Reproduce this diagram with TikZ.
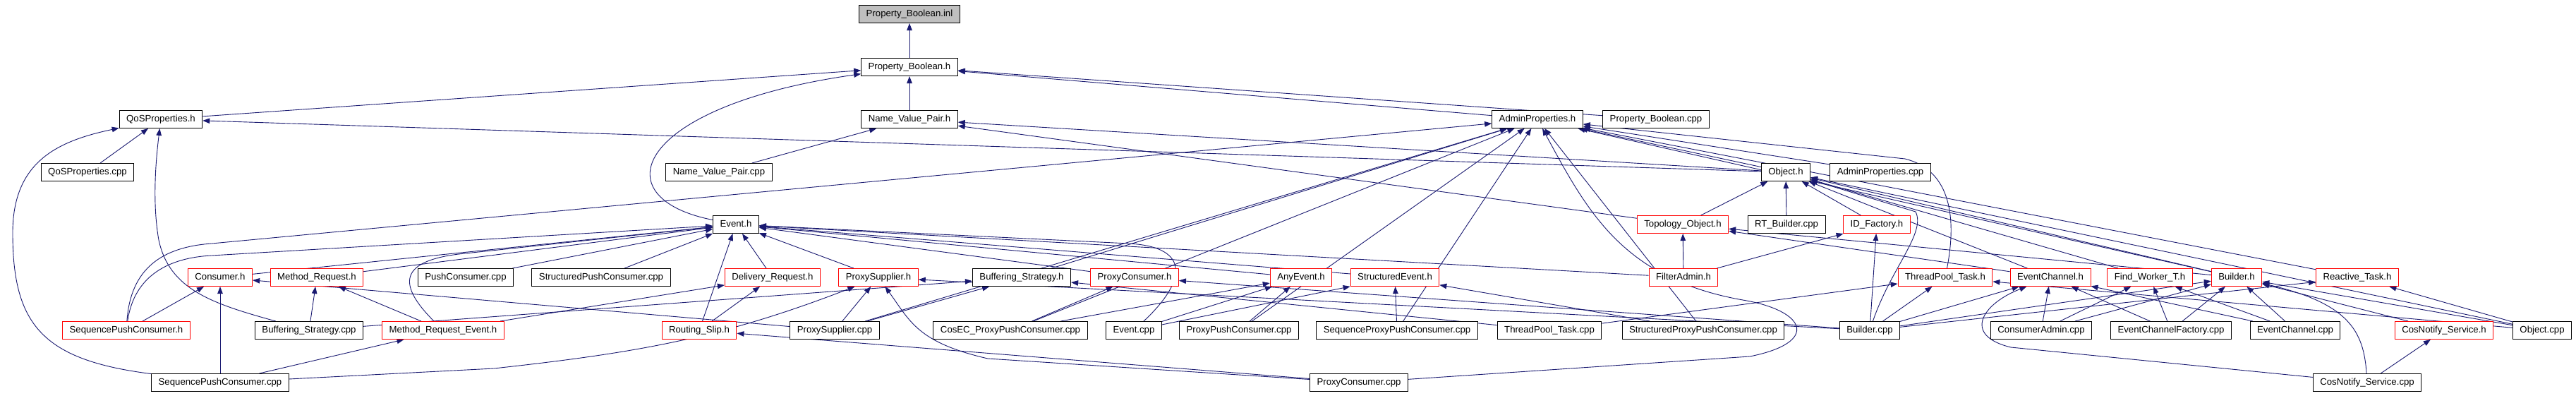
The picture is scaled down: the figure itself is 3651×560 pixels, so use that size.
\documentclass[tikz,border=0pt]{standalone}
\usepackage{fontspec}
\setmainfont{Liberation Sans}
\usepackage{xcolor}
\usetikzlibrary{arrows.meta,positioning,backgrounds}
\definecolor{incblue}{RGB}{25,25,112}

\begin{document}
\begin{tikzpicture}[x=1pt,y=-1pt,
		file/.style={draw=black, fill=white, line width=1pt, minimum height=25pt, inner xsep=10pt, inner ysep=0pt, text height=10pt, text depth=3pt, font=\fontsize{13.2}{15}\selectfont},
		trunc/.style={file, draw=red},
		root/.style={file, fill=black!25},
		dep/.style={draw=incblue, line width=0.9pt, -{Triangle[length=10pt,width=7.5pt]}}
		]
	
		\useasboundingbox (0,0) rectangle (3651,560);
	
		% --- Rangs 0 a 3 ---
		\node[root] (inl) at (1289,20) {Property\_Boolean.inl};
		\node[file] (PBh) at (1289,95) {Property\_Boolean.h};
		\node[file] (QoSh) at (228,169) {QoSProperties.h};
		\node[file] (NVPh) at (1289,169) {Name\_Value\_Pair.h};
		\node[file] (AdminPh) at (2179,169) {AdminProperties.h};
		\node[file] (PBcpp) at (2347,169) {Property\_Boolean.cpp};
		\node[file] (QoScpp) at (124,244) {QoSProperties.cpp};
		\node[file] (NVPcpp) at (1019,244) {Name\_Value\_Pair.cpp};
		\node[file] (Objh) at (2531,244) {Object.h};
		\node[file] (AdminPcpp) at (2665,244) {AdminProperties.cpp};
	
		% --- Rang 4 ---
		\node[file] (Evh) at (1043,318) {Event.h};
		\node[trunc] (Topoh) at (2385,318) {Topology\_Object.h};
		\node[file] (RTBcpp) at (2532,318) {RT\_Builder.cpp};
		\node[trunc] (IDFh) at (2660,318) {ID\_Factory.h};
	
		% --- Rang 5 ---
		\node[trunc] (Consh) at (312,393) {Consumer.h};
		\node[trunc] (MRh) at (449,393) {Method\_Request.h};
		\node[file] (PushCcpp) at (660,393) {PushConsumer.cpp};
		\node[file] (StrPCcpp) at (852,393) {StructuredPushConsumer.cpp};
		\node[trunc] (DRh) at (1095,393) {Delivery\_Request.h};
		\node[trunc] (PxSh) at (1245,393) {ProxySupplier.h};
		\node[file] (BSh) at (1448,393) {Buffering\_Strategy.h};
		\node[trunc] (PxCh) at (1608,393) {ProxyConsumer.h};
		\node[trunc] (AEh) at (1844,393) {AnyEvent.h};
		\node[trunc] (SEh) at (1977,393) {StructuredEvent.h};
		\node[trunc] (FAh) at (2386,393) {FilterAdmin.h};
		\node[trunc] (TPTh) at (2757,393) {ThreadPool\_Task.h};
		\node[trunc] (ECh) at (2906,393) {EventChannel.h};
		\node[trunc] (FWh) at (3047,393) {Find\_Worker\_T.h};
		\node[trunc] (Bh) at (3170,393) {Builder.h};
		\node[trunc] (RTh) at (3341,393) {Reactive\_Task.h};
	
		% --- Rang 6 ---
		\node[trunc] (SeqPCh) at (179,468) {SequencePushConsumer.h};
		\node[file] (BScpp) at (438,468) {Buffering\_Strategy.cpp};
		\node[trunc] (MREh) at (628,468) {Method\_Request\_Event.h};
		\node[trunc] (RSh) at (991,468) {Routing\_Slip.h};
		\node[file] (PxScpp) at (1183,468) {ProxySupplier.cpp};
		\node[file] (CosECcpp) at (1432,468) {CosEC\_ProxyPushConsumer.cpp};
		\node[file] (Evcpp) at (1607,468) {Event.cpp};
		\node[file] (PPCcpp) at (1756,468) {ProxyPushConsumer.cpp};
		\node[file] (SPPCcpp) at (1980,468) {SequenceProxyPushConsumer.cpp};
		\node[file] (TPTcpp) at (2196,468) {ThreadPool\_Task.cpp};
		\node[file] (StrPPCcpp) at (2414,468) {StructuredProxyPushConsumer.cpp};
		\node[file] (Bcpp) at (2650,468) {Builder.cpp};
		\node[file] (CAcpp) at (2893,468) {ConsumerAdmin.cpp};
		\node[file] (ECFcpp) at (3077,468) {EventChannelFactory.cpp};
		\node[file] (ECcpp) at (3253,468) {EventChannel.cpp};
		\node[trunc] (CNh) at (3464,468) {CosNotify\_Service.h};
		\node[file] (Objcpp) at (3603,468) {Object.cpp};
	
		% --- Rang 7 ---
		\node[file] (SeqPCcpp) at (312,542) {SequencePushConsumer.cpp};
		\node[file] (PxCcpp) at (1926,542) {ProxyConsumer.cpp};
		\node[file] (CNcpp) at (3355,542) {CosNotify\_Service.cpp};
	
		\begin{scope}[on background layer]
		% Property_Boolean
		\draw[dep] (PBh) -- (inl);
		\draw[dep] (NVPh) -- (PBh);
		\draw[dep] (QoSh) -- (PBh);
		\draw[dep] (AdminPh) -- (PBh);
		\draw[dep] (PBcpp) -- (PBh);
		\draw[dep] (Evh) .. controls (850,280) and (900,150) .. (PBh);
	
		% Name_Value_Pair.h et QoSProperties.h
		\draw[dep] (NVPcpp) -- (NVPh);
		\draw[dep] (Objh) -- (NVPh);
		\draw[dep] (Topoh) -- (NVPh);
		\draw[dep] (QoScpp) -- (QoSh);
		\draw[dep] (Objh) -- (QoSh);
		\draw[dep] (SeqPCcpp) .. controls (60,510) and (18,460) .. (18,330) .. controls (18,230) and (80,200) .. (QoSh);
		\draw[dep] (BScpp) .. controls (300,430) and (240,410) .. (225,340) .. controls (218,300) and (218,250) .. (QoSh);
	
		% AdminProperties.h
		\draw[dep] (SeqPCh) .. controls (185,380) and (230,350) .. (300,345) -- (AdminPh);
		\draw[dep] (PxScpp) -- (AdminPh);
		\draw[dep] (BSh) -- (AdminPh);
		\draw[dep] (CosECcpp) -- (AdminPh);
		\draw[dep] (Objh) -- (AdminPh);
		\draw[dep] (AdminPcpp) -- (AdminPh);
		\draw[dep] (TPTh) .. controls (2775,300) and (2760,240) .. (2700,225) -- (AdminPh);
		\draw[dep] (Bh) -- (AdminPh);
		\draw[dep] (RTh) -- (AdminPh);
		\draw[dep] (SPPCcpp) -- (AdminPh);
		\draw[dep] (StrPPCcpp) -- (AdminPh);
		\draw[dep] (PPCcpp) -- (AdminPh);
		\draw[dep] (PxCcpp) -- (2480,505) .. controls (2580,485) and (2560,440) .. (2470,425) .. controls (2300,395) and (2250,300) .. (AdminPh);
	
		% Event.h
		\draw[dep] (SeqPCh) .. controls (190,390) and (240,365) .. (300,362) -- (Evh);
		\draw[dep] (Consh) -- (Evh);
		\draw[dep] (MRh) -- (Evh);
		\draw[dep] (MREh) .. controls (560,400) and (570,370) .. (650,360) -- (Evh);
		\draw[dep] (PushCcpp) -- (Evh);
		\draw[dep] (StrPCcpp) -- (Evh);
		\draw[dep] (RSh) -- (Evh);
		\draw[dep] (DRh) -- (Evh);
		\draw[dep] (PxSh) -- (Evh);
		\draw[dep] (PxCh) -- (Evh);
		\draw[dep] (AEh) -- (Evh);
		\draw[dep] (SEh) -- (Evh);
		\draw[dep] (FAh) -- (Evh);
		\draw[dep] (Evcpp) .. controls (1680,400) and (1690,350) .. (1600,345) -- (Evh);
	
		% Object.h, Topology_Object.h, ID_Factory.h
		\draw[dep] (Topoh) -- (Objh);
		\draw[dep] (RTBcpp) -- (Objh);
		\draw[dep] (IDFh) -- (Objh);
		\draw[dep] (Bcpp) .. controls (2680,380) and (2730,330) .. (2715,300) -- (Objh);
		\draw[dep] (ECh) -- (Objh);
		\draw[dep] (FWh) -- (Objh);
		\draw[dep] (Bh) -- (Objh);
		\draw[dep] (Objcpp) -- (Objh);
		\draw[dep] (FAh) -- (Topoh);
		\draw[dep] (ECh) -- (Topoh);
		\draw[dep] (Bh) -- (Topoh);
		\draw[dep] (FAh) -- (IDFh);
		\draw[dep] (Bcpp) -- (IDFh);
	
		% Consumer.h, Method_Request.h, Delivery_Request.h
		\draw[dep] (SeqPCh) -- (Consh);
		\draw[dep] (SeqPCcpp) -- (Consh);
		\draw[dep] (PxScpp) -- (Consh);
		\draw[dep] (BScpp) -- (MRh);
		\draw[dep] (MREh) -- (MRh);
		\draw[dep] (SeqPCcpp) -- (MREh);
		\draw[dep] (MREh) -- (DRh);
		\draw[dep] (RSh) -- (DRh);
		\draw[dep] (PxCcpp) -- (RSh);
	
		% ProxySupplier.h, Buffering_Strategy.h, ProxyConsumer.h
		\draw[dep] (PxScpp) -- (PxSh);
		\draw[dep] (SeqPCcpp) -- (700,522) .. controls (900,500) and (1020,480) .. (PxSh);
		\draw[dep] (PxCcpp) -- (1400,508) .. controls (1300,485) and (1290,455) .. (PxSh);
		\draw[dep] (Bcpp) -- (PxSh);
		\draw[dep] (BScpp) -- (BSh);
		\draw[dep] (PxScpp) -- (BSh);
		\draw[dep] (TPTcpp) -- (BSh);
		\draw[dep] (CosECcpp) -- (PxCh);
		\draw[dep] (Bcpp) -- (PxCh);
	
		% AnyEvent.h, StructuredEvent.h
		\draw[dep] (CosECcpp) -- (AEh);
		\draw[dep] (Evcpp) -- (AEh);
		\draw[dep] (PPCcpp) -- (AEh);
		\draw[dep] (Evcpp) -- (SEh);
		\draw[dep] (SPPCcpp) -- (SEh);
		\draw[dep] (StrPPCcpp) -- (SEh);
	
		% ThreadPool_Task.h, EventChannel.h, Find_Worker_T.h
		\draw[dep] (TPTcpp) -- (TPTh);
		\draw[dep] (Bcpp) -- (TPTh);
		\draw[dep] (Objcpp) -- (TPTh);
		\draw[dep] (Bcpp) -- (ECh);
		\draw[dep] (CAcpp) -- (ECh);
		\draw[dep] (ECFcpp) -- (ECh);
		\draw[dep] (ECcpp) -- (ECh);
		\draw[dep] (CNcpp) -- (2850,492) .. controls (2780,475) and (2810,430) .. (ECh);
		\draw[dep] (CAcpp) -- (FWh);
		\draw[dep] (ECFcpp) -- (FWh);
		\draw[dep] (ECcpp) -- (FWh);
	
		% Builder.h, Reactive_Task.h, CosNotify_Service.h
		\draw[dep] (Bcpp) -- (Bh);
		\draw[dep] (CAcpp) -- (Bh);
		\draw[dep] (ECFcpp) -- (Bh);
		\draw[dep] (ECcpp) -- (Bh);
		\draw[dep] (CNh) -- (Bh);
		\draw[dep] (CNcpp) .. controls (3350,470) and (3330,430) .. (Bh);
		\draw[dep] (Objcpp) -- (Bh);
		\draw[dep] (Bcpp) -- (RTh);
		\draw[dep] (Objcpp) -- (RTh);
		\draw[dep] (CNcpp) -- (CNh);
		\end{scope}
	
	\end{tikzpicture}
\end{document}
